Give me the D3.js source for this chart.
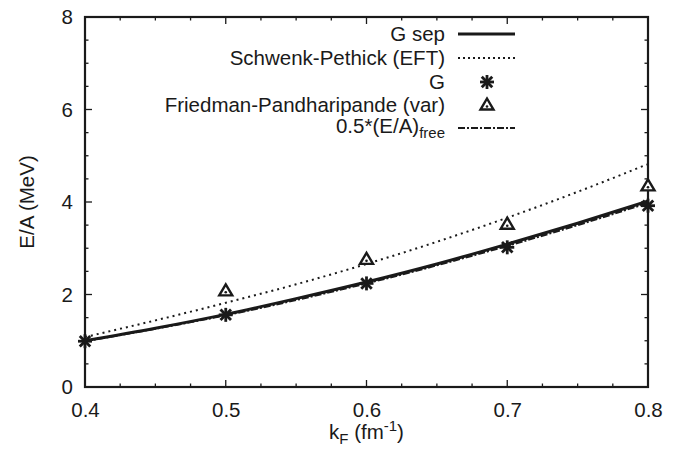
<!DOCTYPE html>
<html>
<head>
<meta charset="utf-8">
<script src="https://cdn.jsdelivr.net/npm/d3@7"></script>
<style>
  html, body { margin: 0; padding: 0; background: #fff; }
  svg text { font-family: "Liberation Sans", Arial, Helvetica, sans-serif; fill: #1a1a1a; }
</style>
</head>
<body>
<svg id="chart" width="685" height="450"></svg>
<script>
// Fermi momentum grid (fm^-1)
const kF = [0.4, 0.5, 0.6, 0.7, 0.8];
const kFfine = [0.4, 0.45, 0.5, 0.55, 0.6, 0.65, 0.7, 0.75, 0.8];

// Energy per particle (MeV)
const gSep = [1.0, 1.27, 1.57, 1.91, 2.27, 2.66, 3.09, 3.54, 4.02];
const schwenkPethick = [1.08, 1.44, 1.82, 2.22, 2.66, 3.14, 3.66, 4.22, 4.82];
const halfFree = [0.99, 1.26, 1.55, 1.88, 2.24, 2.63, 3.05, 3.50, 3.98];
const gPoints = [0.99, 1.56, 2.24, 3.02, 3.92];
const fpKF = [0.5, 0.6, 0.7, 0.8];
const fpPoints = [2.08, 2.76, 3.52, 4.35];

// Axis ticks
const xMajor = [0.4, 0.5, 0.6, 0.7, 0.8];
const yMajor = [0, 2, 4, 6, 8];

const svg = d3.select("#chart");
const m = { left: 85, right: 648, top: 17, bottom: 387 };
const ink = "#1a1a1a";
const fs = 20.5;

const x = d3.scaleLinear().domain([0.4, 0.8]).range([m.left, m.right]);
const y = d3.scaleLinear().domain([0, 8]).range([m.bottom, m.top]);

// Inward ticks on all four sides
const xMinor = d3.range(0, 17).map(i => 0.4 + i * 0.025);
const yMinor = d3.range(0, 17).map(i => i * 0.5);
const ticks = svg.append("g").attr("stroke", ink).attr("stroke-width", 1.3);
xMinor.forEach((v, i) => {
  const len = i % 4 === 0 ? 7 : 3.5;
  ticks.append("line").attr("x1", x(v)).attr("x2", x(v)).attr("y1", m.bottom).attr("y2", m.bottom - len);
  ticks.append("line").attr("x1", x(v)).attr("x2", x(v)).attr("y1", m.top).attr("y2", m.top + len);
});
yMinor.forEach((v, i) => {
  const len = i % 4 === 0 ? 7 : 3.5;
  ticks.append("line").attr("y1", y(v)).attr("y2", y(v)).attr("x1", m.left).attr("x2", m.left + len);
  ticks.append("line").attr("y1", y(v)).attr("y2", y(v)).attr("x1", m.right).attr("x2", m.right - len);
});

// Tick labels via d3 axes (tick marks hidden; drawn above)
const xAxis = d3.axisBottom(x).tickValues(xMajor).tickFormat(d3.format(".1f")).tickSize(0).tickPadding(15);
const yAxis = d3.axisLeft(y).tickValues(yMajor).tickFormat(d3.format("d")).tickSize(0).tickPadding(12);
const gx = svg.append("g").attr("transform", `translate(0,${m.bottom})`).call(xAxis);
const gy = svg.append("g").attr("transform", `translate(${m.left},0)`).call(yAxis);
[gx, gy].forEach(g => {
  g.select(".domain").remove();
  g.selectAll("text").attr("font-size", fs).attr("fill", ink)
    .style("font-family", '"Liberation Sans", Arial, sans-serif');
});

// Frame
svg.append("rect")
  .attr("x", m.left).attr("y", m.top)
  .attr("width", m.right - m.left).attr("height", m.bottom - m.top)
  .attr("fill", "none").attr("stroke", ink).attr("stroke-width", 2.2);

// Axis titles
svg.append("text")
  .attr("transform", `translate(34,${(m.top + m.bottom) / 2}) rotate(-90)`)
  .attr("text-anchor", "middle").attr("font-size", fs)
  .text("E/A (MeV)");

const xt = svg.append("text")
  .attr("x", (m.left + m.right) / 2).attr("y", 439)
  .attr("text-anchor", "middle").attr("font-size", fs);
xt.append("tspan").text("k");
xt.append("tspan").attr("font-size", 15).attr("dy", 5).text("F");
xt.append("tspan").attr("dy", -5).text(" (fm");
xt.append("tspan").attr("font-size", 15).attr("dy", -8).text("-1");
xt.append("tspan").attr("dy", 8).text(")");

// Curves
const line = d3.line().x(d => x(d[0])).y(d => y(d[1])).curve(d3.curveMonotoneX);
const plotG = svg.append("g");

plotG.append("path").datum(kFfine.map((k, i) => [k, schwenkPethick[i]]))
  .attr("d", line).attr("fill", "none").attr("stroke", ink)
  .attr("stroke-width", 2).attr("stroke-dasharray", "2,4");

plotG.append("path").datum(kFfine.map((k, i) => [k, gSep[i]]))
  .attr("d", line).attr("fill", "none").attr("stroke", ink).attr("stroke-width", 3);

plotG.append("path").datum(kFfine.map((k, i) => [k, halfFree[i]]))
  .attr("d", line).attr("fill", "none").attr("stroke", ink)
  .attr("stroke-width", 2).attr("stroke-dasharray", "7,2,2,2");

// Markers
function star(g, cx, cy) {
  const r = 7;
  const s = g.append("g").attr("stroke", ink).attr("stroke-width", 2.8).attr("stroke-linecap", "butt");
  s.append("line").attr("x1", cx - r).attr("x2", cx + r).attr("y1", cy).attr("y2", cy);
  s.append("line").attr("x1", cx).attr("x2", cx).attr("y1", cy - r).attr("y2", cy + r);
  const d = r * 0.75;
  s.append("line").attr("x1", cx - d).attr("x2", cx + d).attr("y1", cy - d).attr("y2", cy + d);
  s.append("line").attr("x1", cx - d).attr("x2", cx + d).attr("y1", cy + d).attr("y2", cy - d);
}
function tri(g, cx, cy) {
  const r = 6.5;
  g.append("path")
    .attr("d", `M${cx},${cy - r}L${cx + r},${cy + r * 0.7}L${cx - r},${cy + r * 0.7}Z`)
    .attr("fill", "#fff").attr("stroke", ink).attr("stroke-width", 2.4);
  g.append("circle").attr("cx", cx).attr("cy", cy + 1.5).attr("r", 1.3).attr("fill", ink);
}
kF.forEach((k, i) => star(plotG, x(k), y(gPoints[i])));
fpKF.forEach((k, i) => tri(plotG, x(k), y(fpPoints[i])));

// Legend
const legend = svg.append("g");
const lx = 445, sx1 = 458, sx2 = 515, smid = 487;
const rows = [34, 58, 82, 105, 128];
function label(yy, txt) {
  return legend.append("text").attr("x", lx).attr("y", yy + 7)
    .attr("text-anchor", "end").attr("font-size", fs).text(txt);
}
label(rows[0], "G sep");
legend.append("line").attr("x1", sx1).attr("x2", sx2).attr("y1", rows[0]).attr("y2", rows[0])
  .attr("stroke", ink).attr("stroke-width", 3);
label(rows[1], "Schwenk-Pethick (EFT)");
legend.append("line").attr("x1", sx1).attr("x2", sx2).attr("y1", rows[1]).attr("y2", rows[1])
  .attr("stroke", ink).attr("stroke-width", 2).attr("stroke-dasharray", "2,3");
label(rows[2], "G");
star(legend, smid, rows[2]);
label(rows[3], "Friedman-Pandharipande (var)");
tri(legend, smid, rows[3]);
const lt = legend.append("text").attr("x", lx).attr("y", rows[4] + 5)
  .attr("text-anchor", "end").attr("font-size", fs);
lt.append("tspan").text("0.5*(E/A)");
lt.append("tspan").attr("font-size", 15).attr("dy", 5).text("free");
legend.append("line").attr("x1", sx1).attr("x2", sx2).attr("y1", rows[4]).attr("y2", rows[4])
  .attr("stroke", ink).attr("stroke-width", 2).attr("stroke-dasharray", "7,2,2,2");
</script>
</body>
</html>
